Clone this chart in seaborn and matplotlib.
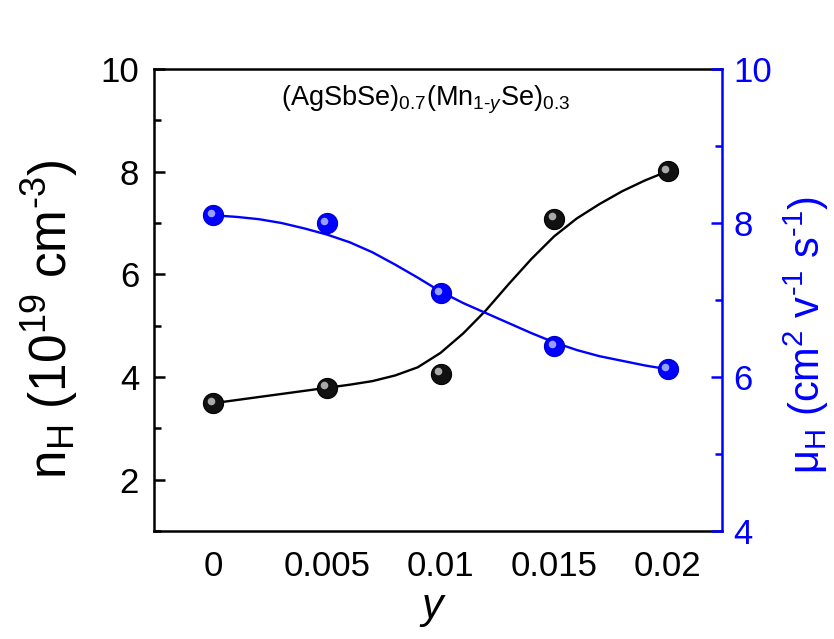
import matplotlib
matplotlib.use("Agg")
import matplotlib.pyplot as plt
import matplotlib.transforms as mtransforms
from matplotlib.ticker import MultipleLocator
import seaborn as sns

# measured points
y_frac = [0, 0.005, 0.01, 0.015, 0.02]
tick_labels = ["0", "0.005", "0.01", "0.015", "0.02"]
n_h = [3.49, 3.79, 4.06, 7.08, 8.01]
mu_h = [8.10, 8.00, 7.09, 6.40, 6.10]

# guide-to-the-eye curves
fit_x = [0, 0.001, 0.002, 0.003, 0.004, 0.005, 0.006, 0.007, 0.008, 0.009, 0.010,
         0.011, 0.012, 0.013, 0.014, 0.015, 0.016, 0.017, 0.018, 0.019, 0.020]
fit_n = [3.49, 3.55, 3.61, 3.67, 3.73, 3.79, 3.85, 3.92, 4.03, 4.19, 4.47,
         4.85, 5.30, 5.81, 6.30, 6.74, 7.09, 7.37, 7.62, 7.83, 8.01]
fit_mu = [8.10, 8.08, 8.05, 8.00, 7.93, 7.85, 7.75, 7.62, 7.46, 7.29, 7.11,
          6.96, 6.83, 6.70, 6.57, 6.45, 6.35, 6.27, 6.21, 6.15, 6.10]

BLUE = "#0000ff"

sns.set_style("white")
plt.rcParams["font.family"] = ["Liberation Sans", "DejaVu Sans"]
plt.rcParams["mathtext.fontset"] = "custom"
plt.rcParams["mathtext.rm"] = "Liberation Sans"
plt.rcParams["mathtext.it"] = "Liberation Sans:italic"
plt.rcParams["text.color"] = "black"
plt.rcParams["axes.labelcolor"] = "black"
plt.rcParams["xtick.color"] = "black"
plt.rcParams["ytick.color"] = "black"

fig = plt.figure(figsize=(8.34, 6.39), dpi=100)
ax = fig.add_axes([0.185, 0.169, 0.681, 0.723])
ax2 = ax.twinx()

# n_H (left axis)
sns.lineplot(x=fit_x, y=fit_n, ax=ax, color="black", lw=1.7)
sns.scatterplot(x=y_frac, y=n_h, ax=ax, color="#111111", s=210,
                edgecolor="black", linewidth=0.8, zorder=3)
shine = mtransforms.offset_copy(ax.transData, fig=fig, x=-2.5, y=2.5, units="dots")
ax.scatter(y_frac, n_h, s=30, color="#bbbbbb", alpha=0.9, transform=shine, zorder=4, linewidths=0)

# mu_H (right axis)
sns.lineplot(x=fit_x, y=fit_mu, ax=ax2, color=BLUE, lw=1.7)
sns.scatterplot(x=y_frac, y=mu_h, ax=ax2, color=BLUE, s=210,
                edgecolor="#0000c8", linewidth=0.8, zorder=3)
shine2 = mtransforms.offset_copy(ax2.transData, fig=fig, x=-2.5, y=2.5, units="dots")
ax2.scatter(y_frac, mu_h, s=30, color="#a8b4ff", alpha=0.9, transform=shine2, zorder=4, linewidths=0)

ax.set_xlim(-0.0026, 0.0224)
ax.set_ylim(1, 10)
ax2.set_ylim(4, 10)

ax.set_xticks(y_frac[::2])
ax.set_xticklabels(tick_labels[::2])
ax.set_xticks(y_frac[1::2], minor=True)
ax.set_xticklabels(tick_labels[1::2], minor=True)
ax.set_yticks([2, 4, 6, 8, 10])
ax.yaxis.set_minor_locator(MultipleLocator(1))
ax2.set_yticks([4, 6, 8, 10])
ax2.yaxis.set_minor_locator(MultipleLocator(1))

ax.tick_params(axis="x", which="major", direction="in", length=10, width=1.8,
               labelsize=25, pad=14, top=False)
ax.tick_params(axis="x", which="minor", direction="in", length=6, width=1.8,
               labelsize=25, pad=14, top=False)
ax.tick_params(axis="y", which="major", direction="in", length=8, width=1.8,
               labelsize=25, pad=11, right=False)
ax.tick_params(axis="y", which="minor", direction="in", length=5, width=1.8, right=False)
ax2.tick_params(axis="y", which="major", direction="in", length=8, width=1.8,
                labelsize=25, pad=8, color=BLUE, labelcolor=BLUE)
ax2.tick_params(axis="y", which="minor", direction="in", length=5, width=1.8, color=BLUE)

for s in ax.spines.values():
    s.set_linewidth(1.8)
    s.set_color("black")
ax.spines["right"].set_visible(False)
for name in ["left", "top", "bottom"]:
    ax2.spines[name].set_visible(False)
ax2.spines["right"].set_color(BLUE)
ax2.spines["right"].set_linewidth(1.8)

ax.set_xlabel("$y$", fontsize=31)
ax.xaxis.set_label_coords(0.49, -0.125)
ax.set_ylabel(r"n$_\mathrm{H}$ (10$^{19}$ cm$^{\text{-}3}$)", fontsize=37)
ax.yaxis.set_label_coords(-0.13, 0.459)
ax2.set_ylabel(r"μ$_\mathrm{H}$ (cm$^{2}$ v$^{\text{-}1}$ s$^{\text{-}1}$)", fontsize=30,
               color=BLUE)
ax2.yaxis.set_label_coords(1.105, 0.424)

ax.text(0.477, 0.933, r"(AgSbSe)$_{0.7}$(Mn$_{1\text{-}y}$Se)$_{0.3}$",
        transform=ax.transAxes, ha="center", va="center", fontsize=19.5)

fig.savefig("out.png", dpi=100)
